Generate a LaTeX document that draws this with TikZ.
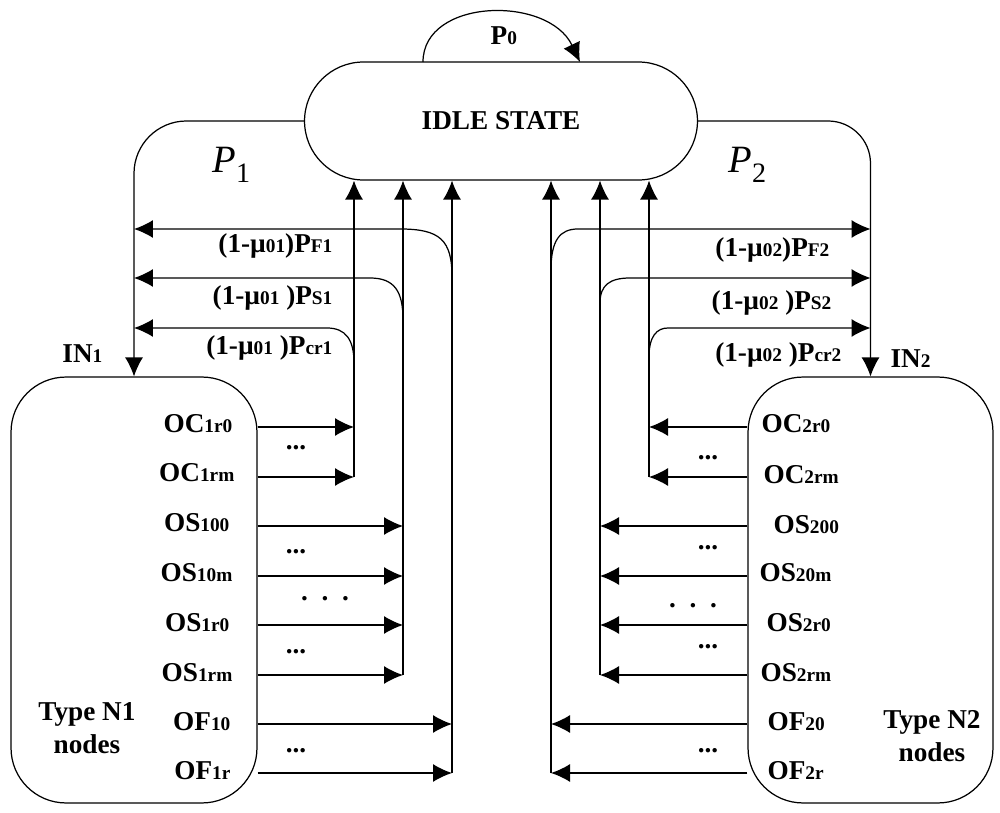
\documentclass[tikz,border=0pt]{standalone}
\usepackage{fontspec}
\setmainfont{Liberation Serif}
\usetikzlibrary{arrows.meta,shapes.misc}

% smaller text kept on the baseline
\newcommand{\lo}[1]{{\fontsize{11}{11}\selectfont #1}}

\tikzset{
  arr/.style={-{Latex[length=3.8mm,width=3.6mm]}},
  lbl/.style={font=\fontsize{15.5}{19}\selectfont\bfseries, inner sep=0pt},
  group/.style={draw, rounded corners=1.1cm, minimum height=8.52cm},
}

\begin{document}
\begin{tikzpicture}[x=0.02cm,y=-0.02cm,line width=0.7pt]
\useasboundingbox (0,0) rectangle (1000,813);

\node[draw, rounded rectangle, minimum width=7.86cm, minimum height=2.36cm, lbl] (idle) at (501,121) {IDLE STATE};
\node[group, minimum width=4.92cm] (n1) at (134,590) {};
\node[group, minimum width=4.90cm] (n2) at (870.5,590) {};

% self loop
\coordinate (l0) at (423,62);
\coordinate (l1) at (580,62);
\draw[arr] (l0) .. controls (423,-2) and (548,-5) .. (l1);
\node[lbl, anchor=base west] (p0) at (490,45) {P\lo{0}};

% to the two groups
\draw[arr, rounded corners=1.05cm] (idle.west) -| (n1.north);
\draw[arr, rounded corners=0.85cm] (idle.east) -| (n2.north);
\node[anchor=base west, inner sep=0pt] (p1) at (212,173) {\fontsize{22}{24}\selectfont\itshape P\raisebox{-5.6pt}{\upshape\fontsize{16}{16}\selectfont 1}};
\node[anchor=base west, inner sep=0pt] (p2) at (728,173) {\fontsize{22}{24}\selectfont\itshape P\raisebox{-5.6pt}{\upshape\fontsize{16}{16}\selectfont 2}};
\node[lbl, anchor=base east] (in1) at (103,363) {IN\lo{1}};
\node[lbl, anchor=base west] (in2) at (890,368) {IN\lo{2}};

% trunks up to the idle state
\coordinate (c1) at (354,477);
\coordinate (s1) at (403,675);
\coordinate (f1) at (452,773);
\coordinate (c2) at (649,477);
\coordinate (s2) at (600,675);
\coordinate (f2) at (551,773);
\foreach \t in {c1,s1,f1,c2,s2,f2}
  \draw[arr] (\t) -- (\t |- idle.south);

% outputs of type N1 nodes
\node[lbl, anchor=base east] (oc1r0) at (233,433) {OC\lo{1r0}};
\node[lbl, anchor=base east] (oc1rm) at (235,482) {OC\lo{1rm}};
\node[lbl, anchor=base east] (os100) at (230,532) {OS\lo{100}};
\node[lbl, anchor=base east] (os10m) at (233,582) {OS\lo{10m}};
\node[lbl, anchor=base east] (os1r0) at (230,631) {OS\lo{1r0}};
\node[lbl, anchor=base east] (os1rm) at (233,681) {OS\lo{1rm}};
\node[lbl, anchor=base east] (of10) at (231,730) {OF\lo{10}};
\node[lbl, anchor=base east] (of1r) at (231,779) {OF\lo{1r}};
\node[lbl, align=center] (type1) at (87,728) {Type N1\\nodes};

\foreach \y in {427,477}
  \draw[arr] (n1.east |- 0,\y) -- (c1 |- 0,\y);
\foreach \y in {526,576,625,675}
  \draw[arr] (n1.east |- 0,\y) -- (s1 |- 0,\y);
\foreach \y in {724,773}
  \draw[arr] (n1.east |- 0,\y) -- (f1 |- 0,\y);

\node[lbl, anchor=base] (d11) at (296,450) {...};
\node[lbl, anchor=base] (d12) at (296,554) {...};
\node[lbl, anchor=base] (d13) at (296,653) {...};
\node[lbl, anchor=base] (d14) at (296,752) {...};
\node[lbl, anchor=base] (d15) at (325,600) {.\ \ .\ \ .};

% outputs of type N2 nodes
\node[lbl, anchor=base west] (oc2r0) at (761,433) {OC\lo{2r0}};
\node[lbl, anchor=base west] (oc2rm) at (763,484) {OC\lo{2rm}};
\node[lbl, anchor=base west] (os200) at (773,534) {OS\lo{200}};
\node[lbl, anchor=base west] (os20m) at (759,582) {OS\lo{20m}};
\node[lbl, anchor=base west] (os2r0) at (766,631) {OS\lo{2r0}};
\node[lbl, anchor=base west] (os2rm) at (760,681) {OS\lo{2rm}};
\node[lbl, anchor=base west] (of20) at (767,730) {OF\lo{20}};
\node[lbl, anchor=base west] (of2r) at (767,779) {OF\lo{2r}};
\node[lbl, align=center] (type2) at (932,736) {Type N2\\nodes};

\foreach \y in {427,477}
  \draw[arr] (n2.west |- 0,\y) -- (c2 |- 0,\y);
\foreach \y in {526,576,625,675}
  \draw[arr] (n2.west |- 0,\y) -- (s2 |- 0,\y);
\foreach \y in {724,773}
  \draw[arr] (n2.west |- 0,\y) -- (f2 |- 0,\y);

\node[lbl, anchor=base] (d21) at (708,460) {...};
\node[lbl, anchor=base] (d22) at (708,549) {...};
\node[lbl, anchor=base] (d23) at (708,648) {...};
\node[lbl, anchor=base] (d24) at (708,752) {...};
\node[lbl, anchor=base] (d25) at (693,607) {.\ \ .\ \ .};

% failures back to the inputs
\coordinate (bf1) at (452,277);
\coordinate (bs1) at (403,320);
\coordinate (bc1) at (354,363);
\coordinate (bf2) at (551,270);
\coordinate (bs2) at (600,303);
\coordinate (bc2) at (649,357);
\draw[arr] (bf1) .. controls (452,240) and (440,229) .. (400,229) -- (n1.north |- 0,229);
\draw[arr] (bs1) .. controls (403,292) and (395,278) .. (370,278) -- (n1.north |- 0,278);
\draw[arr] (bc1) .. controls (354,340) and (346,328) .. (327,328) -- (n1.north |- 0,328);
\draw[arr] (bf2) .. controls (551,240) and (560,229) .. (578,229) -- (n2.north |- 0,229);
\draw[arr] (bs2) .. controls (600,285) and (610,278) .. (630,278) -- (n2.north |- 0,278);
\draw[arr] (bc2) .. controls (649,336) and (657,328) .. (668,328) -- (n2.north |- 0,328);

\node[lbl, anchor=base east] (q1) at (333,253) {(1-\textmu\lo{01})P\lo{F1}};
\node[lbl, anchor=base east] (q2) at (333,305) {(1-\textmu\lo{01} )P\lo{S1}};
\node[lbl, anchor=base east] (q3) at (333,355) {(1-\textmu\lo{01} )P\lo{cr1}};
\node[lbl, anchor=base east] (q4) at (830,257) {(1-\textmu\lo{02})P\lo{F2}};
\node[lbl, anchor=base east] (q5) at (832,310) {(1-\textmu\lo{02} )P\lo{S2}};
\node[lbl, anchor=base east] (q6) at (842,362) {(1-\textmu\lo{02} )P\lo{cr2}};

\end{tikzpicture}
\end{document}
